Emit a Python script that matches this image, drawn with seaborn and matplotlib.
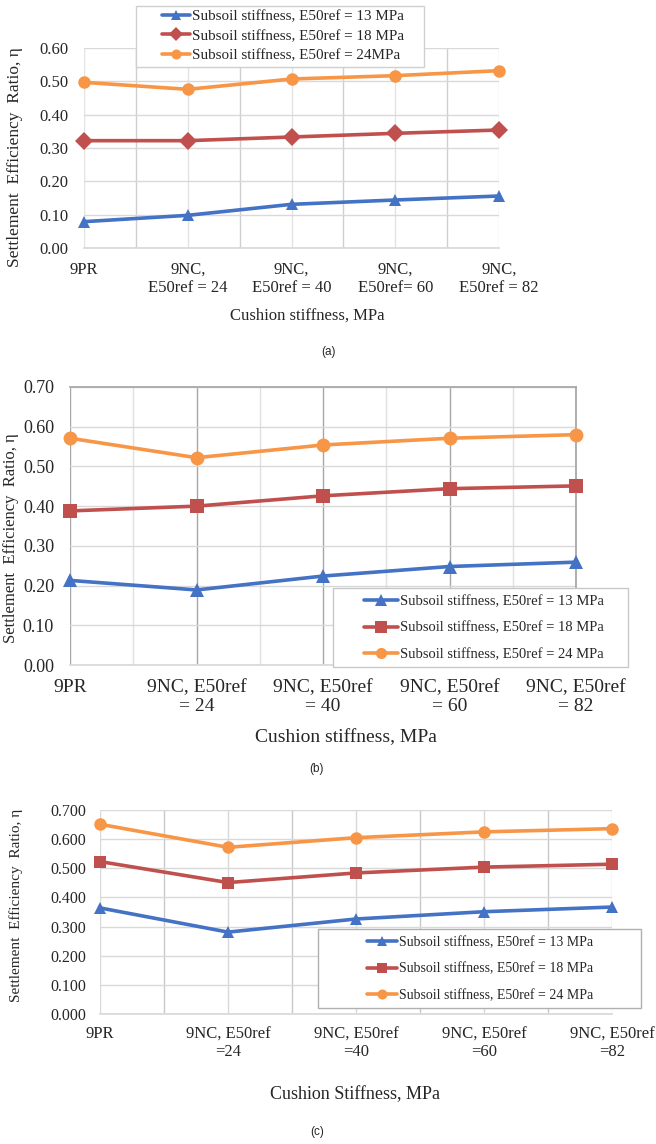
import numpy as np
import pandas as pd
import matplotlib
matplotlib.use('Agg')
import matplotlib.pyplot as plt
from matplotlib.patches import Rectangle
import seaborn as sns

# dados
cat_a = ['9PR', '9NC,\nE50ref = 24', '9NC,\nE50ref = 40', '9NC,\nE50ref= 60', '9NC,\nE50ref = 82']
cat_b = ['9PR', '9NC, E50ref\n= 24', '9NC, E50ref\n= 40', '9NC, E50ref\n= 60', '9NC, E50ref\n= 82']
cat_c = ['9PR', '9NC, E50ref\n=24', '9NC, E50ref\n=40', '9NC, E50ref\n=60', '9NC, E50ref\n=82']

series_a = ['Subsoil stiffness, E50ref = 13 MPa', 'Subsoil stiffness, E50ref = 18 MPa',
            'Subsoil stiffness, E50ref = 24MPa']
series_bc = ['Subsoil stiffness, E50ref = 13 MPa', 'Subsoil stiffness, E50ref = 18 MPa',
             'Subsoil stiffness, E50ref = 24 MPa']

a13 = [0.079, 0.098, 0.131, 0.144, 0.156]
a18 = [0.322, 0.322, 0.333, 0.344, 0.354]
a24 = [0.497, 0.476, 0.507, 0.517, 0.532]

b13 = [0.213, 0.189, 0.224, 0.248, 0.259]
b18 = [0.388, 0.400, 0.426, 0.444, 0.451]
b24 = [0.571, 0.522, 0.554, 0.571, 0.580]

c13 = [0.364, 0.281, 0.326, 0.351, 0.367]
c18 = [0.523, 0.451, 0.484, 0.504, 0.514]
c24 = [0.651, 0.572, 0.605, 0.625, 0.636]

colors = ['#4472C4', '#C0504D', '#F79646']

sns.set_theme(style='white')
plt.rcParams['font.family'] = ['Liberation Serif', 'DejaVu Serif']

W, H = 656, 1144
fig = plt.figure(figsize=(W / 100, H / 100), dpi=100)


def px_axes(x0, x1, y0, y1):
    return fig.add_axes([x0 / W, 1 - y1 / H, (x1 - x0) / W, (y1 - y0) / H])


def make_df(names, vals):
    rows = []
    for name, v in zip(names, vals):
        for i, y in enumerate(v):
            rows.append({'x': i, 'y': y, 'serie': name})
    return pd.DataFrame(rows)


def draw_panel(ax, cats, names, vals, markers, ymax, yfmt, fs_y, fs_x, ypad, xpad,
               msize, major_col, minor_col, frame=None):
    df = make_df(names, vals)
    sns.lineplot(data=df, x='x', y='y', hue='serie', style='serie', hue_order=names,
                 style_order=names, palette=colors, markers=dict(zip(names, markers)),
                 dashes=False, linewidth=2.6, markersize=msize, markeredgewidth=0,
                 ax=ax, legend=True)
    for ln in ax.lines:
        ln.set_clip_on(False)
        ln.set_zorder(3)
    ax.set_xlim(0, 4)
    ax.set_ylim(0, ymax)
    ax.set_xticks(range(5))
    ax.set_xticklabels(cats, fontsize=fs_x, linespacing=1.15)
    ax.set_xticks([0.5, 1.5, 2.5, 3.5], minor=True)
    yt = np.arange(0, ymax + 1e-9, 0.1)
    ax.set_yticks(yt)
    ax.set_yticklabels([yfmt.format(v) for v in yt], fontsize=fs_y)
    ax.tick_params(axis='both', which='both', length=0)
    ax.tick_params(axis='y', pad=ypad)
    ax.tick_params(axis='x', pad=xpad)
    ax.grid(axis='y', color='#d9d9d9', linewidth=1.0)
    ax.grid(axis='x', which='major', color=major_col, linewidth=1.0)
    ax.grid(axis='x', which='minor', color=minor_col, linewidth=1.0)
    ax.set_xlabel('')
    ax.set_ylabel('')
    for s in ['left', 'right', 'top']:
        ax.spines[s].set_visible(False)
    ax.spines['bottom'].set_color('#d9d9d9')
    if frame:
        for s in ['right', 'top']:
            ax.spines[s].set_visible(True)
            ax.spines[s].set_color(frame)
    h, l = ax.get_legend_handles_labels()
    ax.get_legend().remove()
    return h, l


def box_legend(ax, h, l, box, start_x, mid_y, fs, hl, ls, edge):
    x0, x1, y0, y1 = box
    rect = Rectangle((x0 / W, 1 - y1 / H), (x1 - x0) / W, (y1 - y0) / H,
                     transform=fig.transFigure, facecolor='white', edgecolor=edge,
                     linewidth=1.0, clip_on=False, zorder=4)
    ax.add_patch(rect)
    leg = ax.legend(h, l, loc='center left', bbox_to_anchor=(start_x / W, 1 - mid_y / H),
                    bbox_transform=fig.transFigure, fontsize=fs, frameon=False,
                    handlelength=hl, handletextpad=0.15, labelspacing=ls, borderpad=0,
                    borderaxespad=0, markerscale=0.8)
    leg.set_zorder(5)
    return leg


# (a)
ax_a = px_axes(84, 499, 48, 248)
h, l = draw_panel(ax_a, cat_a, series_a, [a13, a18, a24], ['^', 'D', 'o'], 0.6, '{:.2f}',
                  12, 12, 11, 10, 9, '#e3e3e3', '#cfcfcf')
box_legend(ax_a, h, l, (136, 424, 6, 67), 162, 36, 10.9, 1.85, 0.38, '#d0d0d0')
fig.text(15 / W, 1 - 157 / H, 'Settlement  Efficiency  Ratio, η', rotation=90, ha='center',
         va='center', fontsize=12.5)
fig.text(307 / W, 1 - 316 / H, 'Cushion stiffness, MPa', ha='center', va='center', fontsize=12)
fig.text(328 / W, 1 - 352 / H, '(a)', ha='center', va='center', fontsize=8.5,
         family=['Liberation Sans', 'DejaVu Sans'])

# (b)
ax_b = px_axes(70, 576, 387, 665)
h, l = draw_panel(ax_b, cat_b, series_bc, [b13, b18, b24], ['^', 's', 'o'], 0.7, '{:.2f}',
                  13, 14, 11.5, 10, 10, '#a6a6a6', '#e0e0e0', frame='#a6a6a6')
box_legend(ax_b, h, l, (333, 628, 588, 667), 364, 628, 10.5, 2.3, 0.9, '#c8c8c8')
fig.text(11 / W, 1 - 538 / H, 'Settlement  Efficiency  Ratio, η', rotation=90, ha='center',
         va='center', fontsize=12)
fig.text(346 / W, 1 - 738 / H, 'Cushion stiffness, MPa', ha='center', va='center', fontsize=14)
fig.text(316 / W, 1 - 769 / H, '(b)', ha='center', va='center', fontsize=8.5,
         family=['Liberation Sans', 'DejaVu Sans'])

# (c)
ax_c = px_axes(100, 612, 810, 1014)
h, l = draw_panel(ax_c, cat_c, series_bc, [c13, c18, c24], ['^', 's', 'o'], 0.7, '{:.3f}',
                  11.5, 12, 10, 9, 9, '#d9d9d9', '#c8c8c8')
box_legend(ax_c, h, l, (318, 641, 929, 1008), 367, 969, 10, 2.15, 0.97, '#b0b0b0')
fig.text(16 / W, 1 - 905 / H, 'Settlement  Efficiency  Ratio, η', rotation=90, ha='center',
         va='center', fontsize=11)
fig.text(355 / W, 1 - 1095 / H, 'Cushion Stiffness, MPa', ha='center', va='center', fontsize=13)
fig.text(317 / W, 1 - 1132 / H, '(c)', ha='center', va='center', fontsize=8.5,
         family=['Liberation Sans', 'DejaVu Sans'])

fig.savefig('out.png', dpi=100, facecolor='white')
